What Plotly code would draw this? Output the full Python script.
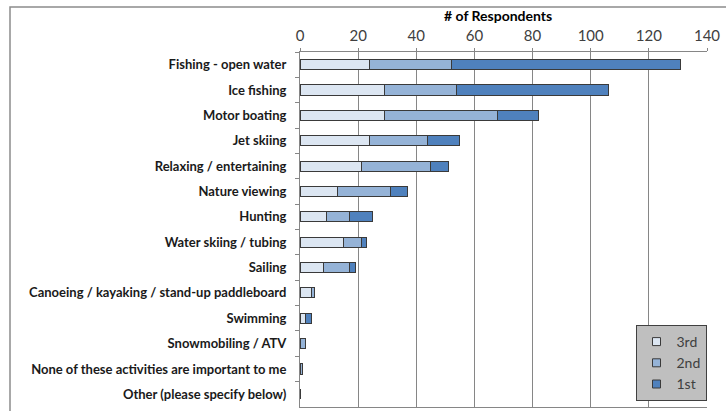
import plotly.graph_objects as go

categories = [
    "Fishing - open water",
    "Ice fishing",
    "Motor boating",
    "Jet skiing",
    "Relaxing / entertaining",
    "Nature viewing",
    "Hunting",
    "Water skiing / tubing",
    "Sailing",
    "Canoeing / kayaking / stand-up paddleboard",
    "Swimming",
    "Snowmobiling / ATV",
    "None of these activities are important to me",
    "Other (please specify below)",
]
third = [24, 29, 29, 24, 21, 13, 9, 15, 8, 4, 2, 0, 0, 0]
second = [28, 25, 39, 20, 24, 18, 8, 6, 9, 1, 0, 2, 1, 0]
first = [79, 52, 14, 11, 6, 6, 8, 2, 2, 0, 2, 0, 0, 0]

x_ticks = [0, 20, 40, 60, 80, 100, 120, 140]

FONT = "Lato, 'Open Sans', sans-serif"
GRID = "#868686"
OUTLINE = "#3A3A3A"

series = [
    ("3rd", third, "#DCE6F2"),
    ("2nd", second, "#95B3D7"),
    ("1st", first, "#4F81BD"),
]

fig = go.Figure()
for name, vals, color in series:
    fig.add_trace(
        go.Bar(
            y=categories,
            x=vals,
            name=name,
            orientation="h",
            showlegend=False,
            marker={"color": color, "line": {"color": OUTLINE, "width": 1}},
        )
    )
# small square legend swatches, like the Excel legend
for name, vals, color in series:
    fig.add_trace(
        go.Scatter(
            x=[None],
            y=[None],
            name=name,
            mode="markers",
            marker={"symbol": "square", "size": 8, "color": color,
                    "line": {"color": OUTLINE, "width": 1}},
        )
    )

W, H = 726, 411
L, R, T, B = 300, 19, 52, 4
pw, ph = W - L - R, H - T - B

fig.update_layout(
    width=W,
    height=H,
    margin=dict(l=L, r=R, t=T, b=B, pad=0),
    barmode="stack",
    bargap=0.6,
    paper_bgcolor="white",
    plot_bgcolor="white",
    font=dict(family=FONT, color="#404040", size=13),
    showlegend=True,
    legend=dict(
        x=(671 - L) / pw,
        y=(H - B - 363) / ph,
        xanchor="center",
        yanchor="middle",
        bgcolor="#BFBFBF",
        bordercolor="#404040",
        borderwidth=1,
        traceorder="normal",
        font=dict(family=FONT, size=14, color="#404040"),
        itemwidth=30,
        tracegroupgap=0,
    ),
)

fig.update_xaxes(
    side="top",
    range=[0, 140],
    tickvals=x_ticks,
    ticks="outside",
    ticklen=3,
    tickcolor=GRID,
    ticklabelstandoff=1,
    showgrid=True,
    gridcolor=GRID,
    gridwidth=1,
    showline=True,
    linecolor=GRID,
    linewidth=1,
    mirror=True,
    zeroline=False,
    tickfont=dict(family=FONT, size=15, color="#404040"),
)

fig.update_yaxes(
    autorange="reversed",
    ticks="outside",
    ticklen=4,
    tickcolor=GRID,
    tickson="boundaries",
    ticklabelstandoff=10,
    showline=True,
    linecolor=GRID,
    linewidth=1,
    showgrid=False,
    tickfont=dict(family=FONT, size=13, color="#1A1A1A"),
    tickprefix="<b>",
    ticksuffix="</b>",
)

# axis title sits tight above the tick labels, as in the Excel original
fig.add_annotation(
    text="<b># of Respondents</b>",
    xref="paper",
    yref="paper",
    x=(498 - L) / pw,
    y=(H - B - 16) / ph,
    xanchor="center",
    yanchor="middle",
    showarrow=False,
    font=dict(family=FONT, size=14, color="#000000"),
)

# chart-area border (top and left edges visible, rest runs off the page)
fig.add_shape(
    type="rect",
    xref="paper",
    yref="paper",
    x0=(10 - L) / pw,
    x1=(W + 20 - L) / pw,
    y0=-(B + 20) / ph,
    y1=(H - B - 7) / ph,
    line=dict(color="#8C8C8C", width=1.5),
    layer="below",
)

fig.write_html(
    "out.html",
    config={"displayModeBar": False},
    post_script="document.body.style.margin='0';",
)
